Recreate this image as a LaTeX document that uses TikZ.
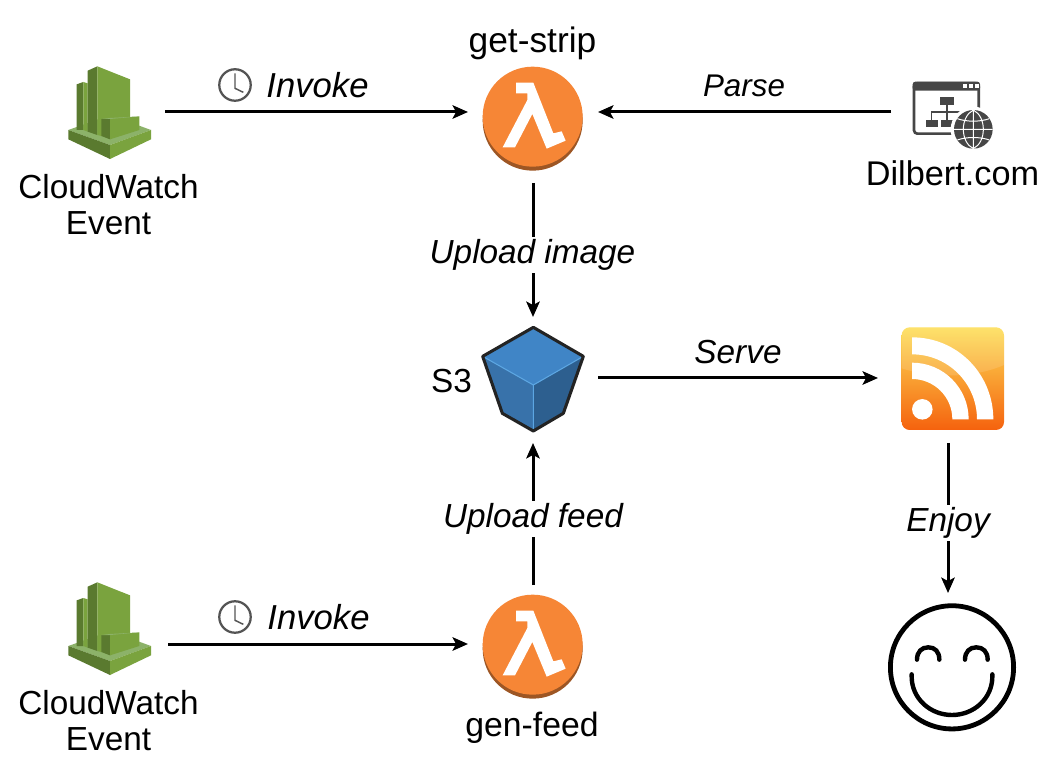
\documentclass[tikz,border=0pt]{standalone}
\usepackage{fontspec}
\setmainfont{Liberation Sans}
\usetikzlibrary{arrows.meta}
\definecolor{cwlight}{RGB}{122,163,62}
\definecolor{cwdark}{RGB}{90,122,47}
\definecolor{cwtop}{RGB}{140,178,105}
\definecolor{lamorange}{RGB}{246,134,54}
\definecolor{lamdark}{RGB}{157,86,36}
\definecolor{sthree}{RGB}{64,133,198}
\definecolor{sthreeleft}{RGB}{56,114,170}
\definecolor{sthreeright}{RGB}{45,95,143}
\definecolor{sthreeedge}{RGB}{92,166,226}
\definecolor{sthreeline}{RGB}{35,35,35}
\definecolor{webgray}{RGB}{70,70,70}
\definecolor{clockgray}{RGB}{84,84,84}
\tikzset{
  zoomed/.style={x=.25pt,y=-.25pt},
  anchorbox/.style={inner sep=0pt,outer sep=0pt,draw=none},
  txt/.style={inner sep=0pt,font=\fontsize{25}{27}\selectfont,align=center},
  edgelabel/.style={inner sep=2pt,font=\fontsize{25}{27}\selectfont\itshape},
  link/.style={line width=2.25pt,-{Stealth[length=11.5pt,width=10pt,inset=2.5pt]}},
  cloudwatch/.pic={
    \begin{scope}[zoomed]
      \fill[cwtop] (55,240)--(180,195)--(303,240)--(180,285)--cycle;
      \fill[cwdark] (55,240)--(180,285)--(180,327)--(55,268)--cycle;
      \fill[cwlight] (180,285)--(303,240)--(303,268)--(180,327)--cycle;
      \fill[cwdark] (80,103)--(100,96)--(100,240)--(80,240)--cycle;
      \fill[cwlight] (100,96)--(113,100)--(113,245)--(100,240)--cycle;
      \fill[cwdark] (113,62)--(142,49)--(142,255)--(113,245)--cycle;
      \fill[cwlight] (142,49)--(240,88)--(240,230)--(154,258)--(142,255)--cycle;
      \fill[cwdark] (154,207)--(180,207)--(180,268)--(154,258)--cycle;
      \fill[cwlight] (180,207)--(268,199)--(268,240)--(180,268)--cycle;
      \fill[cwtop] (154,207)--(180,204)--(268,199)--(180,207)--cycle;
    \end{scope}
  },
  lambdaicon/.pic={
    \begin{scope}[zoomed]
      \fill[lamdark] (188,152) circle[radius=37.5pt];
      \fill[lamorange] (188,140) circle[radius=37.5pt];
      \fill[white] (138,38)--(190,38)--(250,190)--(275,184)--(287,212)--(230,236)--(187,132)--(135,232)--(98,232)--(172,90)--(172,70)--(138,70)--cycle;
    \end{scope}
  },
  sthreeicon/.pic={
    \begin{scope}[zoomed]
      \fill[sthreeleft] (38,124)--(190,210)--(190,348)--(97,295)--cycle;
      \fill[sthreeright] (340,124)--(190,210)--(190,348)--(280,295)--cycle;
      \fill[sthree] (190,37)--(340,124)--(190,210)--(38,124)--cycle;
      \draw[sthreeedge,line width=.8pt] (38,124)--(190,210)--(340,124) (190,210)--(190,348);
      \draw[sthreeline,line width=2.3pt,line join=round] (190,37)--(340,124)--(280,295)--(190,348)--(97,295)--(38,124)--cycle;
    \end{scope}
  },
  webicon/.pic={
    \begin{scope}[zoomed]
      \draw[webgray,line width=2pt,rounded corners=2.5pt] (42,40) rectangle (236,191);
      \fill[webgray,rounded corners=2pt] (38,35) rectangle (240,62);
      \foreach \dx in {195,212,232} \fill[white] (\dx-6,42) rectangle (\dx+6,54);
      \fill[webgray] (120,80) rectangle (162,105);
      \fill[webgray] (77,150) rectangle (113,172);
      \fill[webgray] (122,150) rectangle (160,172);
      \draw[webgray,line width=1pt] (141,105)--(141,150) (95,150)--(95,126)--(185,126)--(185,150);
      \fill[white] (220,178) circle[radius=17pt];
      \fill[webgray] (220,178) circle[radius=14.5pt];
      \draw[white,line width=.75pt] (220,120)--(220,236) (162,178)--(278,178)
        (172,146).. controls (200,156) and (240,156) .. (268,146)
        (172,210).. controls (200,200) and (240,200) .. (268,210)
        (220,120).. controls (180,140) and (180,216) .. (220,236)
        (220,120).. controls (260,140) and (260,216) .. (220,236);
    \end{scope}
  },
  rssicon/.pic={
    \begin{scope}[zoomed]
      \shade[rounded corners=6pt,top color={rgb,255:red,253;green,222;blue,85},middle color={rgb,255:red,250;green,170;blue,38},bottom color={rgb,255:red,245;green,98;blue,14}] (35,37) rectangle (342,345);
      \begin{scope}
        \clip[rounded corners=6pt] (35,37) rectangle (342,345);
        \fill[white,opacity=.13] (35,37) -- (35,160) .. controls (130,190) and (250,190) .. (342,150) -- (342,37) -- cycle;
      \end{scope}
      \fill[white] (66,67) .. controls (202,67) and (310,177) .. (310,313) -- (261,313) .. controls (261,205) and (174,118) .. (66,118) -- cycle;
      \fill[white] (66,143) .. controls (160,143) and (236,219) .. (236,313) -- (187,313) .. controls (187,246) and (133,192) .. (66,192) -- cycle;
      \fill[white] (97,283) circle[radius=7.7pt];
    \end{scope}
  },
  smileicon/.pic={
    \begin{scope}[zoomed]
      \draw[black,line width=3.6pt] (216,217) circle[radius=46.2pt];
      \draw[black,line width=3.3pt,line cap=round]
        (111,194) .. controls (111,170) and (125,157) .. (145,157) .. controls (165,157) and (178,170) .. (178,194)
        (255,194) .. controls (255,170) and (269,157) .. (289,157) .. controls (309,157) and (323,170) .. (323,194)
        (95,238) -- (95,245) .. controls (95,310) and (150,360) .. (216,360) .. controls (282,360) and (337,310) .. (337,245) -- (337,238);
    \end{scope}
  },
  clockicon/.pic={
    \begin{scope}[zoomed]
      \draw[clockgray,line width=1.7pt] (75,75) circle[radius=11.8pt];
      \draw[clockgray,line width=1.1pt] (75,40)--(75,85)--(100,97);
    \end{scope}
  }
}
\begin{document}
\begin{tikzpicture}[x=.75pt,y=-.75pt]
\useasboundingbox (0,0) rectangle (1061,773);
% icons
\pic at (50,50) {cloudwatch};
\pic at (50,566) {cloudwatch};
\pic at (470,70) {lambdaicon};
\pic at (470,598) {lambdaicon};
\pic at (470,315) {sthreeicon};
\pic at (900,70) {webicon};
\pic at (890,315) {rssicon};
\pic at (880,595) {smileicon};
\pic at (210,60) {clockicon};
\pic at (210,592) {clockicon};
% anchor boxes for connectors
\node[anchorbox,minimum width=84pt,minimum height=60pt] (cwa) at (109,112) {};
\node[anchorbox,minimum width=88.5pt,minimum height=60pt] (cwb) at (109,644) {};
\node[anchorbox,minimum width=97.5pt,minimum height=106.5pt] (lama) at (533,112) {};
\node[anchorbox,minimum width=97.5pt,minimum height=88.5pt] (lamb) at (533,644) {};
\node[anchorbox,minimum width=97.5pt,minimum height=91.5pt] (sthree) at (533,378) {};
\node[anchorbox,minimum width=105pt,minimum height=97.5pt] (rss) at (948,378) {};
\node[anchorbox,minimum width=90pt,minimum height=115.5pt] (web) at (951,112) {};
\node[anchorbox,minimum width=60pt,minimum height=115.5pt] (smile) at (948,670) {};
% connectors
\draw[link] (cwa.east) -- (lama.west);
\draw[link] (web.west) -- (lama.east);
\draw[link] (lama.south) -- (sthree.north);
\draw[link] (sthree.east) -- (rss.west);
\draw[link] (cwb.east) -- (lamb.west);
\draw[link,shorten >=3pt] (lamb.north) -- (sthree.south);
\draw[link] (rss.south) -- (smile.north);
% labels
\node[edgelabel,font=\fontsize{26}{27}\selectfont\itshape] (linvokea) at (317.5,85) {Invoke};
\node[edgelabel,font=\fontsize{26}{27}\selectfont\itshape] (linvokeb) at (318.5,617) {Invoke};
\node[edgelabel,font=\fontsize{23.5}{27}\selectfont\itshape] (lparse) at (744,86) {Parse};
\node[edgelabel,fill=white] (lupimg) at (532.5,255) {Upload image};
\node[edgelabel] (lserve) at (738,352) {Serve};
\node[edgelabel,fill=white] (lupfeed) at (533,519) {Upload feed};
\node[edgelabel,fill=white] (lenjoy) at (948,523) {Enjoy};
\node[txt,font=\fontsize{26.5}{27}\selectfont] (tstrip) at (532.5,43) {get-strip};
\node[txt,font=\fontsize{25.3}{27}\selectfont] (tfeed) at (532,728) {gen-feed};
\node[txt] (ts) at (451.5,381) {S3};
\node[txt,font=\fontsize{25.7}{27}\selectfont] (tdil) at (952.5,173) {Dilbert.com};
\node[txt] (tcwa) at (108.5,204.5) {CloudWatch\\Event};
\node[txt] (tcwb) at (108.5,720.5) {CloudWatch\\Event};
\end{tikzpicture}
\end{document}
